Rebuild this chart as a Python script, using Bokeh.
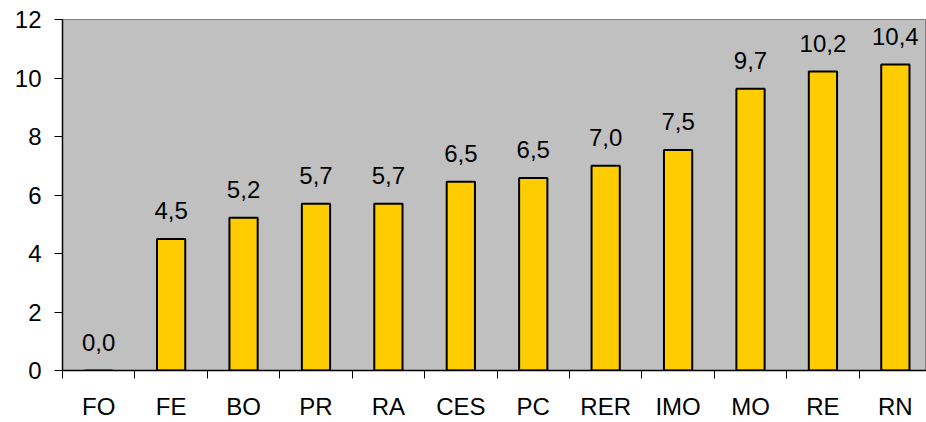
from bokeh.plotting import figure
from bokeh.models import ColumnDataSource, Range1d, FixedTicker, LabelSet, LinearAxis
from bokeh.core.properties import value
from bokeh.embed import file_html
from bokeh.resources import INLINE

categories = ["FO", "FE", "BO", "PR", "RA", "CES", "PC", "RER", "IMO", "MO", "RE", "RN"]
values = [0.0, 4.5, 5.22, 5.7, 5.7, 6.45, 6.58, 7.0, 7.54, 9.63, 10.22, 10.46]
value_labels = ["0,0", "4,5", "5,2", "5,7", "5,7", "6,5", "6,5", "7,0", "7,5", "9,7", "10,2", "10,4"]
y_ticks = [0, 2, 4, 6, 8, 10, 12]

FONT = "Liberation Sans"
FS = "24px"

xc = [i + 0.5 for i in range(len(categories))]
src = ColumnDataSource(dict(x=xc, top=values, lab=value_labels))

p = figure(width=926, height=422, output_backend="svg", toolbar_location=None,
           x_range=Range1d(0, 11.93), y_range=Range1d(0, 12),
           min_border_left=62, min_border_right=0, min_border_top=19, min_border_bottom=49,
           x_axis_type=None, y_axis_type=None)

p.border_fill_color = "#ffffff"
p.background_fill_color = "#C0C0C0"
p.outline_line_color = "#808080"
p.outline_line_width = 1

# y axis
yax = LinearAxis(ticker=FixedTicker(ticks=y_ticks))
yax.axis_line_color = "black"
yax.axis_line_width = 1.5
yax.major_tick_line_color = "black"
yax.major_tick_in = 0
yax.major_tick_out = 8
yax.minor_tick_line_color = None
yax.major_label_text_font = FONT
yax.major_label_text_font_size = FS
yax.major_label_text_color = "black"
yax.major_label_standoff = 13
p.add_layout(yax, "left")

# x axis: labels at centres, tick marks at category boundaries (minor ticks)
xax = LinearAxis(ticker=FixedTicker(ticks=xc, minor_ticks=list(range(0, 13))))
xax.axis_line_color = "black"
xax.axis_line_width = 1.5
xax.major_tick_line_color = None
xax.major_tick_in = 0
xax.major_tick_out = 8
xax.minor_tick_line_color = "black"
xax.minor_tick_in = 0
xax.minor_tick_out = 8
xax.major_label_overrides = {c: lab for c, lab in zip(xc, categories)}
xax.major_label_text_font = FONT
xax.major_label_text_font_size = FS
xax.major_label_text_color = "black"
xax.major_label_standoff = 14
p.add_layout(xax, "below")

p.ygrid.ticker = FixedTicker(ticks=y_ticks)
p.ygrid.grid_line_color = "#8a8a8a"
p.ygrid.grid_line_dash = "8 7"
p.ygrid.grid_line_width = 1
p.xgrid.grid_line_color = None

p.vbar(x="x", top="top", width=0.39, bottom=0, source=src,
       fill_color="#FFCC00", line_color="black", line_width=2)

labels = LabelSet(x="x", y="top", text="lab", source=src, y_offset=20,
                  text_align="center", text_baseline="alphabetic",
                  text_font=value(FONT), text_font_size=value(FS), text_color="black")
p.add_layout(labels)

open("out.html", "w").write(file_html(p, INLINE))
